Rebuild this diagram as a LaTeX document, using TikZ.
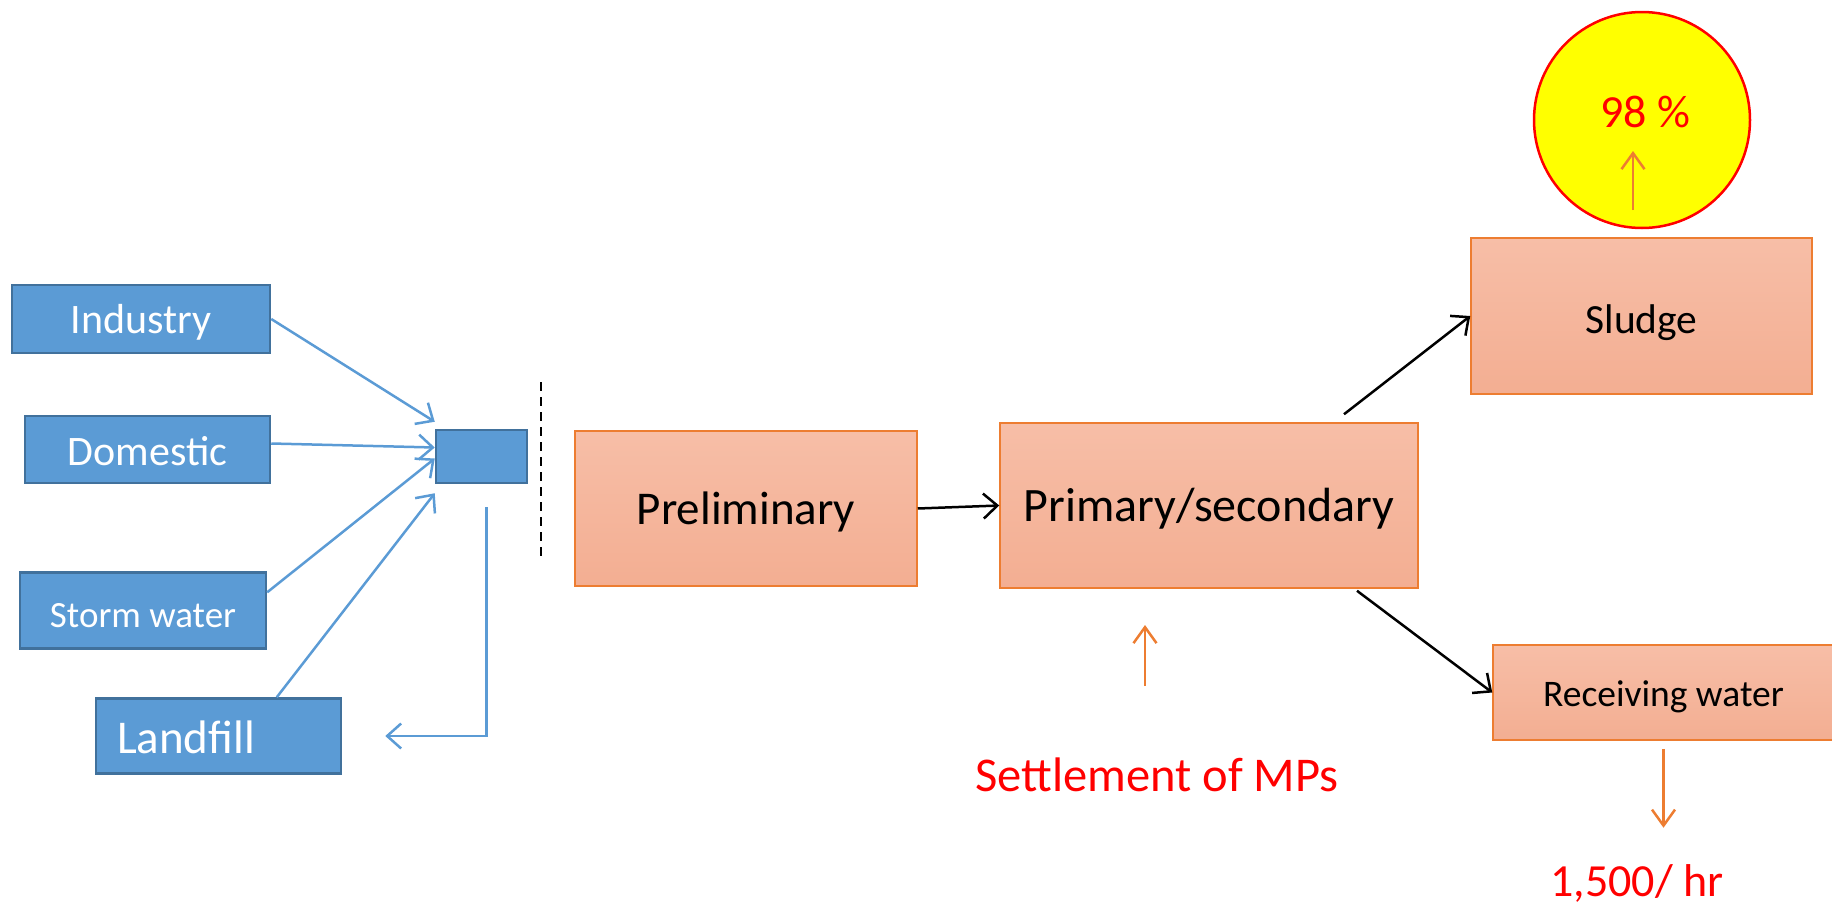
\documentclass[tikz,border=0pt]{standalone}
\usepackage{fontspec}
\setmainfont{Carlito}
\usepackage{tikz}
\usetikzlibrary{arrows.meta,calc}
\definecolor{SrcBlue}{HTML}{5B9BD5}
\definecolor{SrcEdge}{HTML}{41719C}
\definecolor{StageTop}{HTML}{F7BEA7}
\definecolor{StageBot}{HTML}{F3AE92}
\definecolor{Accent}{HTML}{ED7D31}
\definecolor{Alert}{HTML}{FF0000}
\definecolor{Sun}{HTML}{FFFF00}

\begin{document}
\begin{tikzpicture}[
  x=1pt,
  y=-1pt,
  src/.style={draw=SrcEdge,fill=SrcBlue,line width=2.5pt,text=white,inner sep=0pt,text height=34pt,text depth=4pt,font=\fontsize{42}{50}\selectfont},
  stage/.style={draw=Accent,line width=1.5pt,top color=StageTop,bottom color=StageBot,inner sep=0pt,text height=36pt,text depth=4pt,font=\fontsize{48}{57}\selectfont},
  redtext/.style={text=Alert,anchor=base,font=\fontsize{48.5}{58}\selectfont},
  feed/.style={draw=SrcBlue,line width=2.5pt,-{Straight Barb[length=14pt,width=25pt]}},
  flow/.style={draw=black,line width=2.5pt,-{Straight Barb[length=14pt,width=25pt]}},
  hint/.style={draw=Accent,line width=2.5pt,-{Straight Barb[length=16pt,width=23pt]}}
]
  \useasboundingbox (0,0) rectangle (1832,908);

  % Sources
  \node[src,minimum width=258pt,minimum height=68pt,text height=32pt] (ind) at (141,319) {Industry};
  \node[src,minimum width=245pt,minimum height=67pt,text height=36pt] (dom) at (147.5,449.5) {Domestic};
  \node[src,minimum width=246pt,minimum height=76pt,text height=37pt,font=\fontsize{37}{44}\selectfont] (storm) at (143,610.5) {Storm water};
  \node[src,minimum height=75pt,text height=38pt,inner xsep=21pt,text width=203pt,align=left,font=\fontsize{47}{56}\selectfont] (land) at (218.5,736) {Landfill};
  \node[src,minimum width=91pt,minimum height=53pt] (hub) at (481.5,456.5) {};
  \draw[black,line width=2pt,dash pattern=on 9pt off 6pt] (541,382) -- (541,558);

  \draw[feed] (ind.east) -- ($(hub.north west)+(0,-7)$);
  \draw[feed] ($(dom.east)+(0,-6)$) -- ($(hub.west)+(0,-9)$);
  \draw[feed] ($(storm.north east)+(0,21)$) -- ($(hub.west)+(0,2)$);
  \draw[feed] ($(land.north west)+(182,0)$) -- ($(hub.south west)+(0,9)$);
  \draw[feed] ($(hub.south)+(5,23)$) |- ($(land.east)+(43,0)$);

  % Treatment
  \node[stage,minimum width=342pt,minimum height=155pt,text height=35pt,font=\fontsize{47}{56}\selectfont] (prelim) at (746,508.5) {Preliminary};
  \node[stage,minimum width=418pt,minimum height=165pt] (prim) at (1209,505.5) {Primary/secondary};
  \node[stage,minimum width=341pt,minimum height=156pt,text height=38pt,font=\fontsize{41.5}{50}\selectfont] (sludge) at (1641.5,316) {Sludge};
  \node[stage,minimum width=341pt,minimum height=95pt,text height=31pt,font=\fontsize{37.5}{45}\selectfont] (recv) at (1663.5,692.5) {Receiving water};

  \draw[flow] (prelim.east) -- (prim.west);
  \draw[flow] ($(prim.north)+(135,-8)$) -- (sludge.west);
  \draw[flow] ($(prim.south)+(148,2)$) -- (recv.west);

  % Notes
  \node[circle,draw=Alert,fill=Sun,line width=2.5pt,minimum size=216pt,inner sep=0pt] (pct) at (1642,120) {};
  \node[redtext,font=\fontsize{46}{55}\selectfont] (pctlabel) at (1645,127) {98 \%};
  \node[redtext] (settle) at (1157,791) {Settlement of MPs};
  \node[redtext,font=\fontsize{46}{55}\selectfont] (rate) at (1637,896) {1,500/ hr};

  \draw[hint] ($(pct.center)+(-9,90)$) -- ($(pct.center)+(-9,31)$);
  \draw[hint] ($(settle.base)+(-12,-105)$) -- ($(settle.base)+(-12,-166)$);
  \draw[hint] ($(recv.south)+(0,8)$) -- ($(recv.south)+(0,87)$);
\end{tikzpicture}
\end{document}
